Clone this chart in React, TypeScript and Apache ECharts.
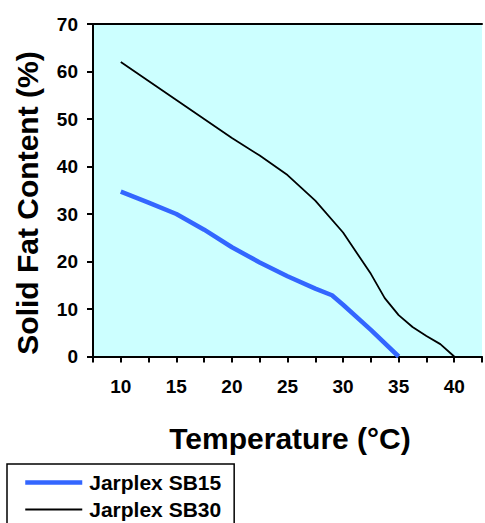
import React, { useEffect, useRef } from "react";
import * as echarts from "echarts";

const seriesNames = ["Jarplex SB15", "Jarplex SB30"];
const sb15Temps = [10, 12.5, 15, 17.5, 20, 22.5, 25, 27.5, 29, 30, 32.5, 35];
const sb15Values = [34.7, 32.4, 30.0, 26.7, 23.0, 19.8, 16.9, 14.3, 12.9, 10.9, 5.6, 0];
const sb30Temps = [10, 15, 20, 22.5, 25, 27.5, 30, 32.5, 33.75, 35, 36.25, 37.5, 38.75, 40];
const sb30Values = [62, 54, 46, 42.3, 38.2, 32.8, 26.1, 17.4, 12.3, 8.7, 6.2, 4.3, 2.6, 0];
const xTitle = "Temperature (\u00B0C)";
const yTitle = "Solid Fat Content (%)";

const FONT = "'Liberation Sans', Arial, sans-serif";

export default function App() {
  const ref = useRef<HTMLDivElement>(null);
  useEffect(() => {
    if (!ref.current) return;
    const chart = echarts.init(ref.current, null, { renderer: "svg" });
    const toPairs = (xs: number[], ys: number[]) => xs.map((x, i) => [x, ys[i]]);
    chart.setOption({
      animation: false,
      backgroundColor: "#ffffff",
      textStyle: { fontFamily: FONT },
      grid: {
        left: 93,
        top: 24,
        right: 0,
        bottom: 523 - 356.5,
        show: true,
        backgroundColor: "#CCFFFF",
        borderWidth: 0,
      },
      xAxis: [
        {
          type: "value",
          min: 7.5,
          max: 42.5,
          interval: 2.5,
          axisLine: { show: true, onZero: false, lineStyle: { color: "#000", width: 2 } },
          axisTick: { show: true, inside: false, length: 6, lineStyle: { color: "#000", width: 2 } },
          splitLine: { show: false },
          axisLabel: {
            show: true,
            margin: 20,
            color: "#000",
            fontSize: 19,
            fontWeight: "bold",
            fontFamily: FONT,
            formatter: (v: number) => (v % 5 === 0 && v > 7.5 && v < 42.5 ? String(v) : ""),
          },
        },
        {
          type: "value",
          position: "top",
          min: 7.5,
          max: 42.5,
          axisLine: { show: true, onZero: false, lineStyle: { color: "#000", width: 2 } },
          axisTick: { show: false },
          axisLabel: { show: false },
          splitLine: { show: false },
        },
      ],
      yAxis: {
        type: "value",
        min: 0,
        max: 70,
        interval: 10,
        axisLine: { show: true, lineStyle: { color: "#000", width: 2 } },
        axisTick: { show: true, inside: false, length: 6, lineStyle: { color: "#000", width: 2 } },
        splitLine: { show: false },
        axisLabel: {
          margin: 15,
          color: "#000",
          fontSize: 19,
          fontWeight: "bold",
          fontFamily: FONT,
        },
      },
      legend: {
        orient: "vertical",
        left: 7,
        top: 464,
        height: 120,
        padding: [8, 13, 12, 16],
        itemGap: 6,
        itemWidth: 57,
        itemHeight: 14,
        borderColor: "#000",
        borderWidth: 1.5,
        borderRadius: 0,
        backgroundColor: "#fff",
        textStyle: { fontSize: 21, fontWeight: "bold", color: "#000", fontFamily: FONT, padding: [0, 0, 0, 2] },
        data: [
          { name: seriesNames[0], itemStyle: { opacity: 0 }, lineStyle: { width: 4.5, color: "#3366FF" } },
          { name: seriesNames[1], itemStyle: { opacity: 0 }, lineStyle: { width: 1.8, color: "#000000" } },
        ],
      },
      graphic: [
        {
          type: "text",
          x: 290,
          y: 438,
          style: {
            text: xTitle,
            fontSize: 30,
            fontWeight: "bold",
            fontFamily: FONT,
            fill: "#000",
            textAlign: "center",
            textVerticalAlign: "middle",
          },
        },
        {
          type: "text",
          x: 27,
          y: 203,
          rotation: Math.PI / 2,
          style: {
            text: yTitle,
            fontSize: 30,
            fontWeight: "bold",
            fontFamily: FONT,
            fill: "#000",
            textAlign: "center",
            textVerticalAlign: "middle",
          },
        },
      ],
      series: [
        {
          name: seriesNames[0],
          type: "line",
          data: toPairs(sb15Temps, sb15Values),
          showSymbol: false,
          symbol: "none",
          lineStyle: { color: "#3366FF", width: 4.5 },
          itemStyle: { color: "#3366FF" },
        },
        {
          name: seriesNames[1],
          type: "line",
          data: toPairs(sb30Temps, sb30Values),
          showSymbol: false,
          symbol: "none",
          lineStyle: { color: "#000000", width: 1.8 },
          itemStyle: { color: "#000000" },
        },
      ],
    });
    return () => chart.dispose();
  }, []);
  return (
    <div
      ref={ref}
      style={{ position: "absolute", left: 0, top: 0, width: 485, height: 523 }}
    />
  );
}
